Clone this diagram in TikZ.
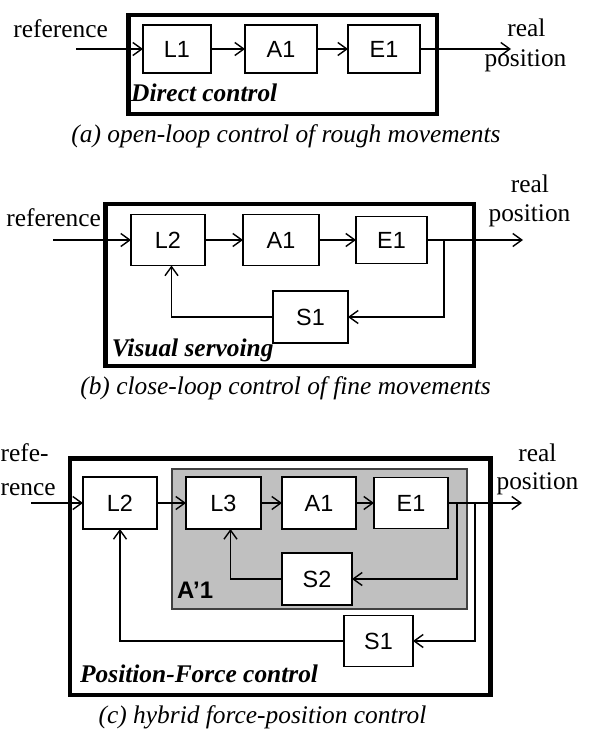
\documentclass[tikz,border=0pt]{standalone}
\usepackage{fontspec}
\setmainfont{Liberation Serif}
\setsansfont{Liberation Sans}
\usetikzlibrary{arrows.meta}
\tikzset{
  blk/.style={draw, fill=white, line width=1.4bp, inner sep=0pt, outer sep=0pt,
    font=\sffamily\fontsize{23.5}{28}\selectfont},
  frame/.style={draw, line width=4.5bp, inner sep=0pt, outer sep=0pt},
  grayframe/.style={draw=black!75, fill={rgb,255:red,192;green,192;blue,192}, line width=2bp, inner sep=0pt, outer sep=0pt},
  con/.style={line width=1.4bp},
  arr/.style={con, -{Straight Barb[length=9bp,width=13bp]}},
  lbl/.style={inner sep=0pt, font=\fontsize{25.5}{30}\selectfont},
  ttl/.style={inner sep=0pt, anchor=base west, font=\bfseries\itshape\fontsize{25.5}{30}\selectfont},
  capt/.style={inner sep=0pt, anchor=base, font=\itshape\fontsize{25.5}{30}\selectfont},
  subttl/.style={inner sep=0pt, anchor=base west, font=\sffamily\bfseries\fontsize{24}{28}\selectfont},
}
\begin{document}
\begin{tikzpicture}[x=1bp,y=-1bp]
\useasboundingbox (0,0) rectangle (594,731);

% ---------------- panel (a)
\node[frame, minimum width=308.5bp, minimum height=99bp] (FA) at (282.75,64.5) {};
\node[blk, minimum width=68bp, minimum height=48bp] (aL1) at (177,49) {L1};
\node[blk, minimum width=72bp, minimum height=48bp] (aA1) at (281,49) {A1};
\node[blk, minimum width=72bp, minimum height=48bp] (aE1) at (384,49) {E1};
\coordinate (aIn) at (76,49);
\coordinate (aOut) at (511,49);
\draw[arr] (aIn) -- (aL1.west);
\draw[arr] (aL1.east) -- (aA1.west);
\draw[arr] (aA1.east) -- (aE1.west);
\draw[arr] (aE1.east) -- (aOut);
\node[lbl, anchor=base east] (aRef) at (108,37.5) {reference};
\node[lbl, anchor=base] (aReal) at (526.5,37) {real};
\node[lbl, anchor=base] (aPos) at (525.5,66.7) {position};
\node[ttl] (aTtl) at (131,102) {Direct control};
\node[capt] (aCap) at (286,143) {(a) open-loop control of rough movements};

% ---------------- panel (b)
\node[frame, minimum width=368.7bp, minimum height=162bp] (FB) at (289.65,285) {};
\node[blk, minimum width=74bp, minimum height=51bp] (bL2) at (168,240) {L2};
\node[blk, minimum width=76bp, minimum height=51bp] (bA1) at (281,240) {A1};
\node[blk, minimum width=71bp, minimum height=47bp] (bE1) at (391.5,240) {E1};
\node[blk, minimum width=75bp, minimum height=52bp] (bS1) at (310.5,317) {S1};
\coordinate (bIn) at (53,240);
\coordinate (bOut) at (523,240);
\coordinate (bBr) at (444,240);
\draw[arr] (bIn) -- (bL2.west);
\draw[arr] (bL2.east) -- (bA1.west);
\draw[arr] (bA1.east) -- (bE1.west);
\draw[arr] (bE1.east) -- (bOut);
\draw[arr] (bBr) |- (bS1.east);
\draw[arr] (bS1.west) -| ([xshift=3.5bp]bL2.south);
\node[lbl, anchor=base east] (bRef) at (101,226.7) {reference};
\node[lbl, anchor=base] (bReal) at (530,192) {real};
\node[lbl, anchor=base] (bPos) at (529.5,221.7) {position};
\node[ttl] (bTtl) at (111.7,356.7) {Visual servoing};
\node[capt] (bCap) at (285.5,394.3) {(b) close-loop control of fine movements};

% ---------------- panel (c)
\node[frame, minimum width=420.3bp, minimum height=236.3bp] (FC) at (280.15,576.85) {};
\node[grayframe, minimum width=295bp, minimum height=140bp] (GC) at (319.5,539) {};
\node[blk, minimum width=74bp, minimum height=52bp] (cL2) at (120,503) {L2};
\node[blk, minimum width=75bp, minimum height=52bp] (cL3) at (223.5,503) {L3};
\node[blk, minimum width=74bp, minimum height=52bp] (cA1) at (319,503) {A1};
\node[blk, minimum width=74bp, minimum height=51bp] (cE1) at (411,503) {E1};
\node[blk, minimum width=70bp, minimum height=52bp] (cS2) at (317,579) {S2};
\node[blk, minimum width=69bp, minimum height=51bp] (cS1) at (378.5,641) {S1};
\coordinate (cIn) at (31,503);
\coordinate (cOut) at (522,503);
\coordinate (cBrIn) at (457,503);
\coordinate (cBrOut) at (475,503);
\draw[arr] (cIn) -- (cL2.west);
\draw[arr] (cL2.east) -- (cL3.west);
\draw[arr] (cL3.east) -- (cA1.west);
\draw[arr] (cA1.east) -- (cE1.west);
\draw[arr] (cE1.east) -- (cOut);
\draw[arr] (cBrIn) |- (cS2.east);
\draw[arr] (cS2.west) -| ([xshift=7bp]cL3.south);
\draw[arr] (cBrOut) |- (cS1.east);
\draw[arr] (cS1.west) -| (cL2.south);
\node[lbl, anchor=base west] (cRef1) at (0.5,461.7) {refe-};
\node[lbl, anchor=base west] (cRef2) at (0.5,495) {rence};
\node[lbl, anchor=base] (cReal) at (537.5,461) {real};
\node[lbl, anchor=base] (cPos) at (537.5,489.3) {position};
\node[subttl] (cSub) at (177,598.3) {A’1};
\node[ttl] (cTtl) at (80,682.7) {Position-Force control};
\node[capt] (cCap) at (262.5,723) {(c) hybrid force-position control};
\end{tikzpicture}
\end{document}
